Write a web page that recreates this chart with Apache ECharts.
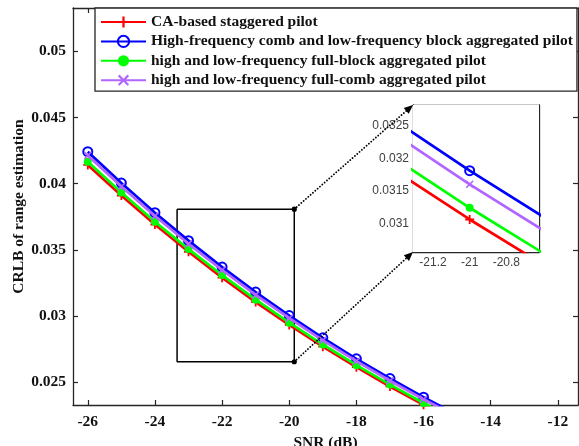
<!DOCTYPE html>
<html>
<head>
<meta charset="utf-8">
<script src="https://cdn.jsdelivr.net/npm/echarts@6/dist/echarts.min.js"></script>
<style>
html,body{margin:0;padding:0;background:#fff;}
#chart{width:579px;height:446px;}
</style>
</head>
<body>
<div id="chart"></div>
<script>
// ---- data ----
const snr = [-26, -25, -24, -23, -22, -21, -20, -19, -18, -17, -16, -15];
const caStaggered = [0.04142, 0.03911, 0.03692, 0.03486, 0.03290, 0.03106, 0.02933, 0.02769, 0.02614, 0.02468, 0.02330, 0.02200];
const combBlock   = [0.04242, 0.04005, 0.03781, 0.03570, 0.03370, 0.03181, 0.03004, 0.02836, 0.02677, 0.02528, 0.02387, 0.02254];
const fullBlock   = [0.04166, 0.03933, 0.03713, 0.03506, 0.03310, 0.03124, 0.02950, 0.02785, 0.02629, 0.02482, 0.02343, 0.02212];
const fullComb    = [0.04214, 0.03979, 0.03756, 0.03546, 0.03348, 0.03160, 0.02984, 0.02817, 0.02660, 0.02511, 0.02371, 0.02239];
const seriesNames = [
  'CA-based staggered pilot',
  'High-frequency comb and low-frequency block aggregated pilot',
  'high and low-frequency full-block aggregated pilot',
  'high and low-frequency full-comb aggregated pilot'
];
const xTicks = [-26, -24, -22, -20, -18, -16, -14, -12];
const yTicks = [0.025, 0.03, 0.035, 0.04, 0.045, 0.05];
const insetXTicks = [-21.2, -21, -20.8];
const insetYTicks = [0.031, 0.0315, 0.032, 0.0325];
const mainXRange = [-26.44, -11.4];
const mainYRange = [0.02328, 0.05328];
const insetXRange = [-21.309, -20.622];
const insetYRange = [0.03056, 0.03282];
const zoomRectX = [-23.34, -19.85];
const zoomRectY = [0.02655, 0.03808];

// ---- styles ----
const colors = ['#ff0000', '#0000ff', '#00ff00', '#b266ff'];
const plusPath = 'path://M4,0H6V4H10V6H6V10H4V6H0V4H4Z';
const crossPath = 'path://M1.4,0L5,3.6L8.6,0L10,1.4L6.4,5L10,8.6L8.6,10L5,6.4L1.4,10L0,8.6L3.6,5L0,1.4Z';
const symbols = [
  {symbol: plusPath, size: 9, item: {color: colors[0]}},
  {symbol: 'circle', size: 9, item: {color: 'rgba(255,255,255,0)', borderColor: colors[1], borderWidth: 2}},
  {symbol: 'circle', size: 8, item: {color: colors[2]}},
  {symbol: crossPath, size: 8, item: {color: colors[3]}}
];
const datasets = [caStaggered, combBlock, fullBlock, fullComb];
const serif = 'Liberation Serif';
const axisColor = '#262626';
const fs = 15.5;

function mkSeries(idx, axisIdx) {
  return {
    name: seriesNames[idx],
    type: 'line',
    xAxisIndex: axisIdx, yAxisIndex: axisIdx,
    data: snr.map((x, i) => [x, datasets[idx][i]]),
    symbol: symbols[idx].symbol,
    symbolSize: symbols[idx].size,
    showAllSymbol: true,
    itemStyle: symbols[idx].item,
    lineStyle: {color: colors[idx], width: 2.7},
    clip: true,
    silent: true,
    z: 3 + idx
  };
}

function valAxis(gridIndex, pos, range, ticks, showLabel, labelStyle) {
  return {
    type: 'value', gridIndex: gridIndex, position: pos,
    min: range[0], max: range[1],
    axisLine: {show: true, onZero: false, lineStyle: {color: axisColor, width: 1.3}},
    axisTick: {show: true, inside: true, length: 5, customValues: ticks, lineStyle: {color: axisColor, width: 1.2}},
    axisLabel: Object.assign({show: showLabel, customValues: ticks,
      formatter: v => String(parseFloat(Number(v).toFixed(5)))}, labelStyle || {}),
    splitLine: {show: false}
  };
}

const mainLabel = {fontFamily: serif, fontWeight: 'bold', fontSize: fs, color: '#111'};
const insetLabel = {fontFamily: 'Liberation Sans', fontSize: 12, color: '#404040'};

const xAxes = [
  Object.assign(valAxis(0, 'bottom', mainXRange, xTicks, true, Object.assign({margin: 9}, mainLabel)), {
    name: 'SNR (dB)', nameLocation: 'middle', nameGap: 30, nameMoveOverlap: false,
    nameTextStyle: {fontFamily: serif, fontWeight: 'bold', fontSize: fs, color: '#111'}
  }),
  valAxis(0, 'top', mainXRange, xTicks, false),
  valAxis(1, 'bottom', insetXRange, insetXTicks, true, Object.assign({margin: 5}, insetLabel)),
  valAxis(1, 'top', insetXRange, insetXTicks, false)
];
const yAxes = [
  Object.assign(valAxis(0, 'left', mainYRange, yTicks, true, Object.assign({margin: 7}, mainLabel)), {
    name: 'CRLB of range estimation', nameLocation: 'middle', nameGap: 46, nameMoveOverlap: false,
    nameTextStyle: {fontFamily: serif, fontWeight: 'bold', fontSize: fs, color: '#111'}
  }),
  valAxis(0, 'right', mainYRange, yTicks, false),
  valAxis(1, 'left', insetYRange, insetYTicks, true, Object.assign({margin: 4}, insetLabel)),
  valAxis(1, 'right', insetYRange, insetYTicks, false)
];

const series = [];
for (let i = 0; i < 4; i++) series.push(mkSeries(i, 0));
for (let i = 0; i < 4; i++) series.push(mkSeries(i, 2));
// zoom rectangle in main axes
series.push({
  name: 'zoomRect', type: 'line', xAxisIndex: 0, yAxisIndex: 0,
  data: [[zoomRectX[0], zoomRectY[1]], [zoomRectX[1], zoomRectY[1]], [zoomRectX[1], zoomRectY[0]],
         [zoomRectX[0], zoomRectY[0]], [zoomRectX[0], zoomRectY[1]]],
  symbol: 'none', lineStyle: {color: '#000', width: 1.5}, silent: true, z: 2
});

const chart = echarts.init(document.getElementById('chart'), null, {renderer: 'canvas'});
chart.setOption({
  animation: false,
  backgroundColor: '#fff',
  grid: [
    {left: 73, top: 8, width: 505, height: 397, show: false, outerBoundsMode: 'none', containLabel: false},
    {left: 413, top: 105, width: 126, height: 147, show: true, backgroundColor: '#fff', borderWidth: 0, z: 1,
     outerBoundsMode: 'none', containLabel: false}
  ],
  legend: {
    data: seriesNames,
    orient: 'vertical', left: 95, top: 8,
    backgroundColor: '#fff', borderColor: axisColor, borderWidth: 1.3,
    padding: [6, 4, 3, 5],
    itemWidth: 45, itemHeight: 14, itemGap: 3.4,
    textStyle: {fontFamily: serif, fontWeight: 'bold', fontSize: fs, lineHeight: 15, color: '#111'},
    selectedMode: false, z: 10
  },
  xAxis: xAxes,
  yAxis: yAxes,
  series: series
});

// connector arrows from the zoom rectangle to the inset
function arrowGraphics(p, q) {
  const dx = q[0] - p[0], dy = q[1] - p[1];
  const L = Math.sqrt(dx * dx + dy * dy);
  const ux = dx / L, uy = dy / L;
  const hl = 9, hw = 3.8;
  const bx = q[0] - ux * hl, by = q[1] - uy * hl;
  return [
    {type: 'line', shape: {x1: p[0], y1: p[1], x2: bx, y2: by},
     style: {stroke: '#000', lineWidth: 1.8, lineDash: [0.1, 3], lineCap: 'round'}, z: 20},
    {type: 'polygon', shape: {points: [[q[0], q[1]], [bx - uy * hw, by + ux * hw], [bx + uy * hw, by - ux * hw]]},
     style: {fill: '#000'}, z: 20},
    {type: 'circle', shape: {cx: p[0], cy: p[1], r: 2.6}, style: {fill: '#000'}, z: 20}
  ];
}
const pTop = chart.convertToPixel({xAxisIndex: 0, yAxisIndex: 0}, [zoomRectX[1], zoomRectY[1]]);
const pBot = chart.convertToPixel({xAxisIndex: 0, yAxisIndex: 0}, [zoomRectX[1], zoomRectY[0]]);
const qTop = chart.convertToPixel({xAxisIndex: 2, yAxisIndex: 2}, [insetXRange[0], insetYRange[1]]);
const qBot = chart.convertToPixel({xAxisIndex: 2, yAxisIndex: 2}, [insetXRange[0], insetYRange[0]]);
chart.setOption({graphic: arrowGraphics(pTop, qTop).concat(arrowGraphics(pBot, qBot))});
</script>
</body>
</html>
